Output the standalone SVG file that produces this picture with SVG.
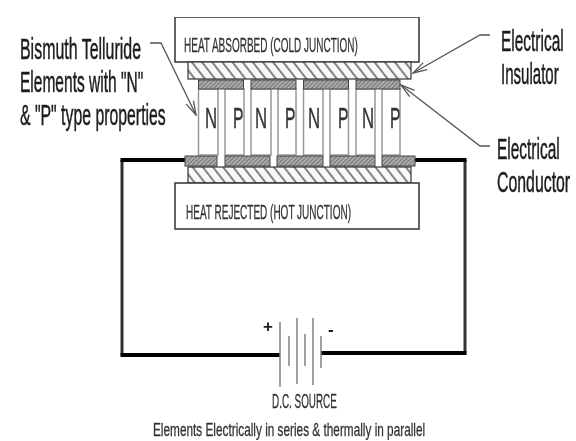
<svg xmlns="http://www.w3.org/2000/svg" width="576" height="441" viewBox="0 0 576 441">
<style>
text{font-family:"Liberation Sans",Arial,sans-serif;fill:#1c1c1c}
.lab{font-size:29px;stroke:#1c1c1c;stroke-width:.5}
.sm{font-size:20px;fill:#333;stroke:#333;stroke-width:.3}
.pn{font-size:30px;fill:#333;stroke:#333;stroke-width:.4}
.box{fill:#fff;stroke:#333;stroke-width:1.5}
.ins{fill:url(#h1);stroke:#333;stroke-width:1.2}
.con{fill:url(#h2);stroke:#444;stroke-width:1}
.el{fill:#fff;stroke:#999;stroke-width:1.5}
.wire{fill:none;stroke:#000;stroke-width:4}
.wirev{fill:none;stroke:#333;stroke-width:3}
.lead{fill:none;stroke:#555;stroke-width:1.3}
.bat{stroke:#808080;stroke-width:1.5}
</style>
<defs>
<pattern id="h1" width="8" height="8" patternUnits="userSpaceOnUse" patternTransform="rotate(-38)"><rect width="8" height="8" fill="#f8f8f8"/><rect width="1.8" height="8" fill="#777"/></pattern>
<pattern id="h2" width="3" height="3" patternUnits="userSpaceOnUse" patternTransform="rotate(45)"><rect width="3" height="3" fill="#b4b4b4"/><rect width="1.3" height="3" fill="#777"/></pattern>
<marker id="arr" markerWidth="16" markerHeight="10" refX="15" refY="5" orient="auto" markerUnits="userSpaceOnUse"><path d="M1 1L15 5L1 9" fill="none" stroke="#555" stroke-width="1.3"/></marker>
<filter id="soft" x="0" y="0" width="100%" height="100%"><feGaussianBlur stdDeviation="0.55"/></filter>
</defs>
<rect width="576" height="441" fill="#fff"/>
<g filter="url(#soft)">
<g id="connectors">
<path class="wirev" d="M122 160V355M465 160V353"/>
<path class="wire" d="M185 160H120.500M120.500 355H280"/>
<path class="wire" d="M415 160H466.500M466.500 353H321"/>
<path class="lead" d="M150 43H161L196 115" marker-end="url(#arr)"/>
<path class="lead" d="M490 35H480L413 73" marker-end="url(#arr)"/>
<path class="lead" d="M490 146H480L401 85" marker-end="url(#arr)"/>
</g>
<g id="elements">
<rect class="el" x="198.500" y="89" width="19.500" height="66"/><rect class="el" x="225" y="89" width="19" height="66"/>
<rect class="el" x="251" y="89" width="20" height="66"/><rect class="el" x="278" y="89" width="18" height="66"/>
<rect class="el" x="303.500" y="89" width="19.500" height="66"/><rect class="el" x="330" y="89" width="18.500" height="66"/>
<rect class="el" x="356" y="89" width="19" height="66"/><rect class="el" x="382" y="89" width="18" height="66"/>
<text class="pn" transform="translate(205 128) scale(.55 1)" textLength="22" lengthAdjust="spacingAndGlyphs">N</text>
<text class="pn" transform="translate(233 128) scale(.55 1)" textLength="19" lengthAdjust="spacingAndGlyphs">P</text>
<text class="pn" transform="translate(255 128) scale(.55 1)" textLength="22" lengthAdjust="spacingAndGlyphs">N</text>
<text class="pn" transform="translate(285 128) scale(.55 1)" textLength="19" lengthAdjust="spacingAndGlyphs">P</text>
<text class="pn" transform="translate(308 128) scale(.55 1)" textLength="22" lengthAdjust="spacingAndGlyphs">N</text>
<text class="pn" transform="translate(338 128) scale(.55 1)" textLength="19" lengthAdjust="spacingAndGlyphs">P</text>
<text class="pn" transform="translate(362 128) scale(.55 1)" textLength="22" lengthAdjust="spacingAndGlyphs">N</text>
<text class="pn" transform="translate(390 128) scale(.55 1)" textLength="19" lengthAdjust="spacingAndGlyphs">P</text>
</g>
<g id="top-conductors">
<rect class="con" x="198.500" y="80" width="45" height="9"/><rect class="con" x="251" y="80" width="45" height="9"/>
<rect class="con" x="303.500" y="80" width="45" height="9"/><rect class="con" x="356" y="80" width="44" height="9"/>
</g>
<g id="bottom-conductors">
<rect class="con" x="185" y="156" width="32" height="10"/><rect class="con" x="225" y="156" width="45" height="10"/>
<rect class="con" x="277" y="156" width="46" height="10"/><rect class="con" x="330" y="156" width="45" height="10"/>
<rect class="con" x="382" y="156" width="33" height="10"/>
</g>
<g id="cold-junction">
<rect class="box" x="175" y="17" width="244" height="45"/>
<text class="sm" transform="translate(184 52) scale(.47 1)" textLength="370" lengthAdjust="spacingAndGlyphs">HEAT ABSORBED (COLD JUNCTION)</text>
</g>
<g id="insulator-top"><rect class="ins" x="188" y="62" width="223" height="17"/></g>
<g id="insulator-bottom"><rect class="ins" x="188" y="167" width="223" height="16"/></g>
<g id="hot-junction">
<rect class="box" x="175" y="183" width="244" height="46"/>
<text class="sm" transform="translate(186 219) scale(.47 1)" textLength="351" lengthAdjust="spacingAndGlyphs">HEAT REJECTED (HOT JUNCTION)</text>
</g>
<g id="battery">
<path class="bat" d="M280 322V387M289 336V366M297 318V384M305 334V366M313 318V385M321 336V368"/>
<text x="263" y="332" style="font-size:17px;font-weight:bold">+</text>
<text x="328" y="335" style="font-size:17px;font-weight:bold">-</text>
<text class="sm" transform="translate(272 408) scale(.47 1)" textLength="138" lengthAdjust="spacingAndGlyphs">D.C. SOURCE</text>
</g>
<g id="labels">
<text class="lab" transform="translate(20 59) scale(.55 1)" textLength="220" lengthAdjust="spacingAndGlyphs">Bismuth Telluride</text>
<text class="lab" transform="translate(20 92) scale(.55 1)" textLength="224" lengthAdjust="spacingAndGlyphs">Elements with "N"</text>
<text class="lab" transform="translate(20 125) scale(.55 1)" textLength="265" lengthAdjust="spacingAndGlyphs">&amp; "P" type properties</text>
<text class="lab" transform="translate(501 51) scale(.55 1)" textLength="114" lengthAdjust="spacingAndGlyphs">Electrical</text>
<text class="lab" transform="translate(501 84) scale(.55 1)" textLength="105" lengthAdjust="spacingAndGlyphs">Insulator</text>
<text class="lab" transform="translate(497 159) scale(.55 1)" textLength="114" lengthAdjust="spacingAndGlyphs">Electrical</text>
<text class="lab" transform="translate(497 192) scale(.55 1)" textLength="133" lengthAdjust="spacingAndGlyphs">Conductor</text>
<text class="sm" transform="translate(153 436) scale(.62 1)" textLength="439" lengthAdjust="spacingAndGlyphs" style="font-size:18px">Elements Electrically in series &amp; thermally in parallel</text>
</g>
</g>
</svg>
